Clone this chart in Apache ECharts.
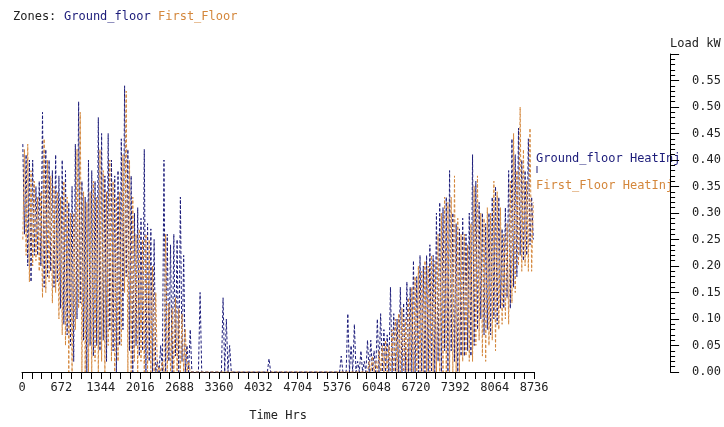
<!DOCTYPE html>
<html>
<head>
<meta charset="utf-8">
<script src="https://cdn.jsdelivr.net/npm/echarts@6/dist/echarts.min.js"></script>
<style>
  html, body { margin: 0; padding: 0; background: #fff; }
  #chart { width: 724px; height: 427px; }
</style>
</head>
<body>
<div id="chart"></div>
<script>
// Hourly heat injection, summarised as one high and one low per 56-hour block
const blockHours = 56;

const groundHigh = [
  0.43,0.41,0.40,0.40,0.35,0.36,0.49,0.42,0.40,0.38,
  0.41,0.37,0.40,0.38,0.32,0.35,0.43,0.51,0.36,0.33,
  0.40,0.38,0.36,0.48,0.45,0.37,0.45,0.40,0.37,0.38,
  0.44,0.54,0.42,0.37,0.30,0.31,0.29,0.42,0.28,0.27,
  0.25,0.02,0.05,0.40,0.26,0.24,0.26,0.25,0.33,0.22,
  0.05,0.08,0,0,0.15,0,0,0,0,0,
  0,0.14,0.10,0.05,0,0,0,0,0,0,
  0,0,0,0,0,0.025,0,0,0,0,
  0,0,0,0,0,0,0,0,0,0,
  0,0,0,0,0,0,0,0.03,0,0.11,
  0.05,0.09,0.02,0.04,0.02,0.06,0.06,0.04,0.10,0.11,
  0.08,0.07,0.16,0.11,0.10,0.16,0.13,0.17,0.16,0.21,
  0.18,0.22,0.20,0.22,0.24,0.22,0.30,0.32,0.31,0.33,
  0.38,0.30,0.28,0.27,0.29,0.26,0.30,0.41,0.36,0.32,
  0.30,0.28,0.30,0.33,0.35,0.33,0.27,0.31,0.38,0.44,
  0.41,0.46,0.40,0.38,0.44,0.33
];
const groundLow = [
  0.26,0.20,0.17,0.22,0.22,0.20,0.16,0.18,0.19,0.16,
  0.17,0.12,0.09,0.07,0.05,0.02,0.10,0.13,0.06,0,
  0.05,0.03,0.05,0.04,0.06,0.02,0.08,0.04,0,0.05,
  0.08,0.18,0.04,0,0.05,0.03,0.04,0,0.02,0,
  0,0,0,0,0.02,0,0.03,0,0.02,0,
  0,0,0,0,0,0,0,0,0,0,
  0,0,0,0,0,0,0,0,0,0,
  0,0,0,0,0,0,0,0,0,0,
  0,0,0,0,0,0,0,0,0,0,
  0,0,0,0,0,0,0,0,0,0,
  0,0,0,0,0,0,0,0,0,0,
  0,0,0,0,0,0,0,0,0,0,
  0,0,0,0,0,0,0.02,0,0.04,0,
  0.04,0.02,0,0.03,0.03,0.04,0.03,0.05,0.08,0.10,
  0.07,0.08,0.07,0.10,0.09,0.12,0.12,0.14,0.12,0.16,
  0.18,0.22,0.21,0.22,0.24,0.25
];
const firstHigh = [
  0.42,0.43,0.38,0.36,0.33,0.34,0.44,0.40,0.37,0.35,
  0.34,0.33,0.36,0.33,0.30,0.30,0.42,0.49,0.34,0.32,
  0.34,0.36,0.33,0.42,0.38,0.34,0.40,0.36,0.33,0.34,
  0.41,0.53,0.40,0.33,0.26,0.27,0.25,0.26,0.25,0.20,
  0.15,0.01,0.02,0.26,0.13,0.12,0.14,0.12,0.11,0.08,
  0.02,0,0,0,0,0,0,0,0,0,
  0,0,0,0,0,0,0,0,0,0,
  0,0,0,0,0,0,0,0,0,0,
  0,0,0,0,0,0,0,0,0,0,
  0,0,0,0,0,0,0,0,0,0,
  0,0,0,0,0,0.02,0.03,0.02,0.04,0.05,
  0.06,0.05,0.08,0.10,0.11,0.12,0.10,0.14,0.16,0.18,
  0.20,0.19,0.21,0.20,0.22,0.21,0.26,0.30,0.33,0.32,
  0.33,0.37,0.29,0.26,0.26,0.24,0.28,0.35,0.37,0.30,
  0.29,0.31,0.30,0.36,0.34,0.31,0.26,0.28,0.36,0.45,
  0.38,0.50,0.42,0.36,0.46,0.32
];
const firstLow = [
  0.25,0.22,0.17,0.20,0.21,0.19,0.14,0.15,0.17,0.13,
  0.15,0.10,0.07,0.05,0,0,0.08,0.12,0,0,
  0,0,0.02,0,0.02,0,0.05,0.02,0,0.02,
  0.05,0.15,0,0,0.02,0,0.02,0,0,0,
  0,0,0,0,0,0,0,0,0,0,
  0,0,0,0,0,0,0,0,0,0,
  0,0,0,0,0,0,0,0,0,0,
  0,0,0,0,0,0,0,0,0,0,
  0,0,0,0,0,0,0,0,0,0,
  0,0,0,0,0,0,0,0,0,0,
  0,0,0,0,0,0,0,0,0,0,
  0,0,0,0,0,0,0,0,0,0,
  0,0,0,0,0,0,0,0,0,0,
  0,0,0,0,0.02,0.03,0.02,0.02,0.05,0.06,
  0.03,0.02,0.05,0.06,0.04,0.08,0.09,0.10,0.09,0.13,
  0.15,0.20,0.19,0.20,0.19,0.19
];

const NAVY = '#1c1c7a';
const ORANGE = '#d4873c';
const MONO = '"DejaVu Sans Mono", "Liberation Mono", monospace';

// Each block contributes two points; highFirst picks which one comes earlier in the block
function blockSeries(high, low, highFirst) {
  const pts = [];
  for (let i = 0; i < high.length; i++) {
    const a = highFirst ? high[i] : low[i];
    const b = highFirst ? low[i] : high[i];
    pts.push([i * blockHours + blockHours * 0.25, a]);
    pts.push([i * blockHours + blockHours * 0.75, b]);
  }
  return pts;
}

const chart = echarts.init(document.getElementById('chart'), null, { renderer: 'canvas' });

chart.setOption({
  animation: false,
  backgroundColor: '#ffffff',
  grid: { left: 22, top: 54, width: 515, height: 325, containLabel: false },
  xAxis: {
    type: 'value',
    min: 0,
    max: 8736,
    interval: 672,
    axisLine: { onZero: false, lineStyle: { color: '#000', width: 1 } },
    axisTick: { show: true, length: 7, lineStyle: { color: '#000' } },
    minorTick: { show: true, splitNumber: 4, length: 7, lineStyle: { color: '#000' } },
    splitLine: { show: false },
    minorSplitLine: { show: false },
    axisLabel: {
      fontFamily: MONO, fontSize: 12, color: '#222', margin: 10,
      formatter: v => String(Math.round(v))
    },
    name: 'Time Hrs',
    nameLocation: 'middle',
    nameGap: 38,
    nameTextStyle: { fontFamily: MONO, fontSize: 12, color: '#222' }
  },
  yAxis: {
    type: 'value',
    position: 'right',
    offset: 136,
    min: 0,
    max: 0.6,
    interval: 0.05,
    axisLine: { show: true, onZero: false, lineStyle: { color: '#000', width: 1 } },
    axisTick: { show: true, length: 9, lineStyle: { color: '#000' } },
    minorTick: { show: true, splitNumber: 5, length: 5, lineStyle: { color: '#000' } },
    splitLine: { show: false },
    minorSplitLine: { show: false },
    axisLabel: {
      fontFamily: MONO, fontSize: 12, color: '#222', margin: 22,
      formatter: v => (v > 0.575 ? '' : v.toFixed(2))
    },
    name: 'Load kW',
    nameLocation: 'end',
    nameGap: 4,
    nameTextStyle: { fontFamily: MONO, fontSize: 12, color: '#222', align: 'left', padding: [0, 0, 0, 0] }
  },
  series: [
    {
      name: 'Ground_floor HeatInj',
      type: 'line',
      data: blockSeries(groundHigh, groundLow, true),
      showSymbol: false,
      silent: true,
      lineStyle: { color: NAVY, width: 1, type: [3, 2] }
    },
    {
      name: 'First_Floor HeatInj',
      type: 'line',
      data: blockSeries(firstHigh, firstLow, false),
      showSymbol: false,
      silent: true,
      lineStyle: { color: ORANGE, width: 1, type: [3, 2] }
    }
  ],
  graphic: [
    { type: 'text', left: 13, top: 11, style: { text: 'Zones:', font: '12px ' + MONO, fill: '#222' } },
    { type: 'text', left: 64, top: 11, style: { text: 'Ground_floor', font: '12px ' + MONO, fill: NAVY } },
    { type: 'text', left: 158, top: 11, style: { text: 'First_Floor', font: '12px ' + MONO, fill: ORANGE } },
    { type: 'text', left: 536, top: 153, style: { text: 'Ground_floor HeatInj', font: '12px ' + MONO, fill: NAVY } },
    { type: 'line', shape: { x1: 537, y1: 166, x2: 537, y2: 173 }, style: { stroke: NAVY, lineWidth: 1 } },
    { type: 'text', left: 536, top: 180, style: { text: 'First_Floor HeatInj', font: '12px ' + MONO, fill: ORANGE } }
  ]
});
</script>
</body>
</html>
